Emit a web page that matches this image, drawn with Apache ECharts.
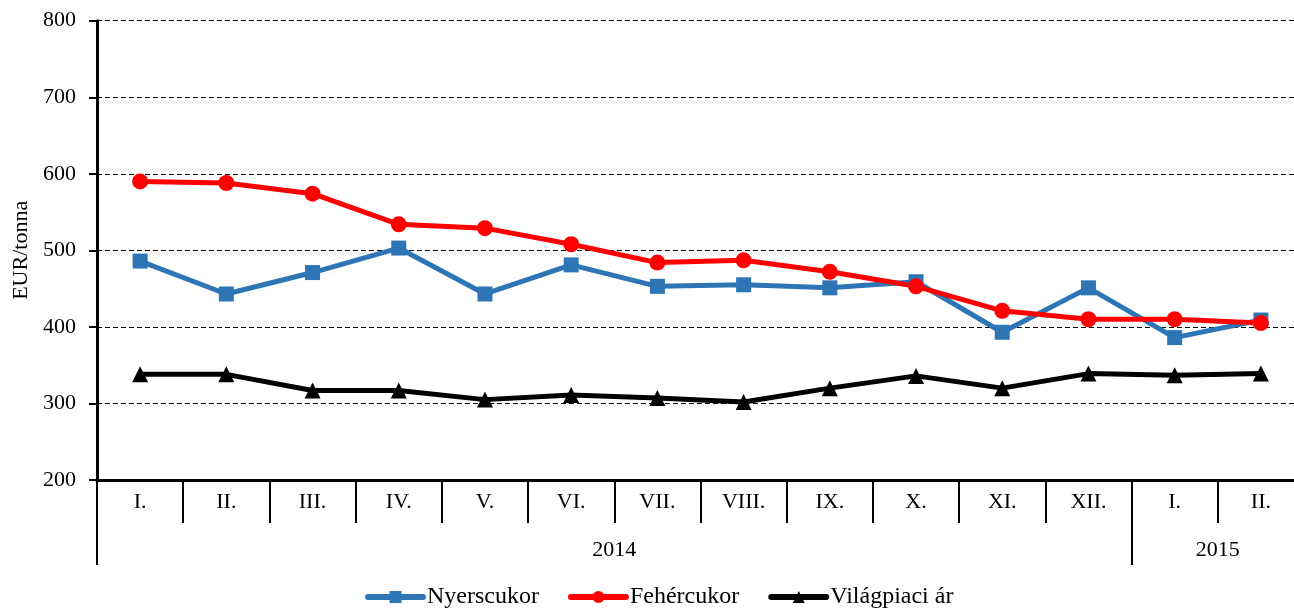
<!DOCTYPE html>
<html>
<head>
<meta charset="utf-8">
<script src="https://cdn.jsdelivr.net/npm/echarts@6/dist/echarts.min.js"></script>
<style>
html,body{margin:0;padding:0;background:#fff;}
#chart{width:1294px;height:610px;}
</style>
</head>
<body>
<div id="chart"></div>
<script>
const categories = ['I.','II.','III.','IV.','V.','VI.','VII.','VIII.','IX.','X.','XI.','XII.','I.','II.'];
const years = ['2014','2015'];
const yearSpans = [12, 2];
const yTicks = [200, 300, 400, 500, 600, 700, 800];
const nyerscukor = [486, 443, 471, 503, 443, 481, 453, 455, 451, 459, 393, 451, 386, 409];
const fehercukor = [590, 588, 574, 534, 529, 508, 484, 487, 472, 453, 421, 410, 410, 405];
const vilagpiaci = [338, 338, 317, 317, 305, 311, 307, 302, 320, 336, 320, 339, 337, 339];

const FONT = 'Liberation Serif';
const boundaries = [0];
const centers = [];
yearSpans.forEach(s => { const b = boundaries[boundaries.length - 1]; centers.push(b + s / 2); boundaries.push(b + s); });
const total = boundaries[boundaries.length - 1];

const gridBox = { left: 97, top: 20.7, width: 1207, bottom: 130, outerBoundsMode: 'none', containLabel: false };

const chart = echarts.init(document.getElementById('chart'), null, { renderer: 'canvas' });
chart.setOption({
  animation: false,
  backgroundColor: '#fff',
  grid: [Object.assign({}, gridBox), Object.assign({}, gridBox)],
  legend: {
    left: 365, top: 585, padding: 0,
    itemWidth: 55, itemHeight: 15, itemGap: 29,
    lineStyle: { width: 6, cap: 'round' },
    textStyle: { fontFamily: FONT, fontSize: 24, color: '#000', padding: [0, 0, 0, -1] },
    data: ['Nyerscukor', 'Fehércukor', 'Világpiaci ár']
  },
  xAxis: [
    {
      type: 'category', gridIndex: 0, data: categories, boundaryGap: true,
      axisLine: { lineStyle: { color: '#000', width: 3 } },
      axisTick: { show: true, interval: 0, length: 43, alignWithLabel: false, lineStyle: { color: '#000', width: 2 } },
      axisLabel: { interval: 0, margin: 11, fontFamily: FONT, fontSize: 22, color: '#000' },
      splitLine: { show: false }
    },
    {
      type: 'value', gridIndex: 1, min: 0, max: total,
      axisLine: { show: false },
      splitLine: { show: false },
      axisTick: { show: true, customValues: boundaries, length: 85, lineStyle: { color: '#000', width: 2 } },
      axisLabel: { customValues: centers, margin: 59, fontFamily: FONT, fontSize: 22, color: '#000',
        formatter: v => { const i = centers.indexOf(v); return i >= 0 ? years[i] : ''; } }
    }
  ],
  yAxis: [
    {
      type: 'value', gridIndex: 0, min: yTicks[0], max: yTicks[yTicks.length - 1], interval: 100,
      name: 'EUR/tonna', nameLocation: 'middle', nameGap: 64, nameRotate: 90,
      nameTextStyle: { fontFamily: FONT, fontSize: 22, color: '#000' },
      axisLine: { show: true, lineStyle: { color: '#000', width: 3 } },
      axisTick: { show: true, length: 8, lineStyle: { color: '#000', width: 2 } },
      axisLabel: { margin: 21, fontFamily: FONT, fontSize: 22, color: '#000' },
      splitLine: { show: true, lineStyle: { color: '#000', width: 1, type: [5, 3] } }
    },
    { type: 'value', gridIndex: 1, min: 0, max: 1, show: false }
  ],
  series: [
    {
      name: 'Nyerscukor', type: 'line', data: nyerscukor, xAxisIndex: 0, yAxisIndex: 0,
      symbol: 'rect', symbolSize: 15, color: '#2E75B6',
      lineStyle: { width: 5, color: '#2E75B6' }, itemStyle: { color: '#2E75B6' }
    },
    {
      name: 'Fehércukor', type: 'line', data: fehercukor, xAxisIndex: 0, yAxisIndex: 0,
      symbol: 'circle', symbolSize: 16, color: '#FF0000',
      lineStyle: { width: 5, color: '#FF0000' }, itemStyle: { color: '#FF0000' }
    },
    {
      name: 'Világpiaci ár', type: 'line', data: vilagpiaci, xAxisIndex: 0, yAxisIndex: 0,
      symbol: 'triangle', symbolSize: 16, color: '#000',
      lineStyle: { width: 5, color: '#000' }, itemStyle: { color: '#000' }
    }
  ]
});
</script>
</body>
</html>
